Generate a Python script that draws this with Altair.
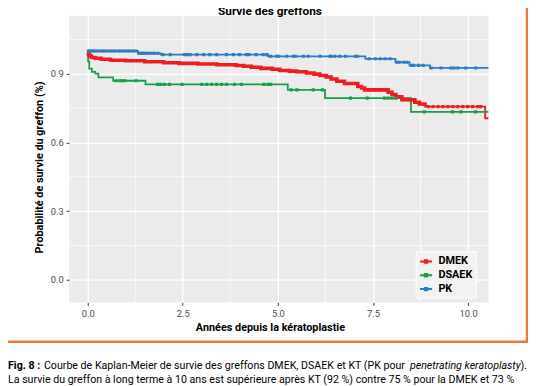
import altair as alt
import pandas as pd

# ---------------- data ----------------
GROUPS = ["DMEK", "DSAEK", "PK"]
COLORS = ["#EE1D23", "#1A9E46", "#2C7BC4"]

DMEK_T = [0, 0.02, 0.05, 0.1, 0.2, 0.35, 0.6, 1.0, 1.5, 2.0, 2.4, 2.9, 3.4, 3.9,
          4.1, 4.3, 4.55, 4.85, 5.05, 5.3, 5.5, 5.75, 5.95, 6.1, 6.27, 6.4, 6.55,
          6.75, 7.1, 7.2, 7.28, 7.9, 8.0, 8.1, 8.26, 8.6, 8.72, 8.87, 10.45, 10.54]
DMEK_S = [0.995, 0.985, 0.978, 0.972, 0.968, 0.964, 0.960, 0.957, 0.953, 0.949,
          0.946, 0.943, 0.940, 0.937, 0.933, 0.929, 0.924, 0.920, 0.915, 0.912,
          0.909, 0.904, 0.899, 0.893, 0.886, 0.878, 0.868, 0.858, 0.845, 0.838,
          0.830, 0.820, 0.810, 0.800, 0.787, 0.776, 0.768, 0.757, 0.706, 0.706]

DSAEK_T = [0, 0.01, 0.04, 0.11, 0.2, 0.28, 0.67, 1.52, 5.26, 6.24, 8.5, 10.54]
DSAEK_S = [1.0, 0.955, 0.923, 0.909, 0.901, 0.885, 0.870, 0.854, 0.830, 0.794,
           0.734, 0.734]

PK_T = [0, 1.32, 1.92, 4.74, 7.3, 8.09, 8.46, 9.0, 10.54]
PK_S = [1.0, 0.990, 0.984, 0.977, 0.966, 0.951, 0.937, 0.926, 0.926]

DMEK_CENS = [7.4, 7.55, 7.7, 8.32, 8.42, 8.52, 8.95, 9.08, 9.21, 9.34, 9.47,
             9.6, 9.73, 9.86, 9.99, 10.12, 10.25, 10.33]
DSAEK_CENS = [0.75, 0.85, 0.91, 0.98, 1.27, 1.84, 1.92, 2.02, 2.15, 2.48, 3.0,
              3.13, 3.26, 3.39, 3.52, 3.65, 3.86, 4.04, 4.63, 4.74, 4.81, 5.35,
              5.5, 5.93, 6.17, 6.91, 7.35, 7.8, 7.9, 8.0, 8.1, 8.85, 9.59, 9.81,
              10.2]
PK_CENS = [0.02, 0.05, 0.1, 0.15, 0.2, 0.27, 0.33, 0.4, 0.45, 0.52, 0.6, 0.66,
           0.72, 0.8, 0.86, 0.93, 1.0, 1.06, 1.12, 1.2, 1.26, 1.35, 1.4, 1.45,
           1.5, 1.56, 1.62, 1.7, 1.76, 1.85, 1.98, 2.17, 2.54, 2.61, 2.69, 2.87,
           3.05, 3.21, 3.39, 3.65, 3.83, 3.99, 4.17, 4.24, 4.43, 4.61, 4.71,
           4.81, 4.97, 5.02, 5.23, 5.41, 5.46, 5.67, 5.8, 6.11, 6.37, 6.39, 6.5,
           6.63, 6.78, 7.04, 7.09, 7.4, 7.56, 7.69, 7.82, 7.95, 8.13, 8.2, 8.31,
           8.39, 8.51, 8.57, 8.7, 8.82, 9.03, 9.29, 9.55, 9.63, 9.73, 9.94, 10.2]

X_TICKS = [0, 2.5, 5, 7.5, 10]
Y_TICKS = [0, 0.3, 0.6, 0.9]
X_MINOR = [1.25, 3.75, 6.25, 8.75]
Y_MINOR = [0.15, 0.45, 0.75, 1.05]
X_DOMAIN = [-0.49, 10.54]
Y_DOMAIN = [-0.099, 1.154]

TITLE = "Survie des greffons"
X_TITLE = "Années depuis la kératoplastie"
Y_TITLE = "Probabilité de survie du greffon (%)"
CAP_BOLD = "Fig. 8 :"
CAP_1A = "Courbe de Kaplan-Meier de survie des greffons DMEK, DSAEK et KT (PK pour"
CAP_1B = "penetrating keratoplasty"
CAP_1C = ")."
CAP_2 = ("La survie du greffon à long terme à 10 ans est supérieure après KT "
         "(92 %) contre 75 % pour la DMEK et 73 %")

# ---------------- tables ----------------
curves_src = {"DMEK": (DMEK_T, DMEK_S), "DSAEK": (DSAEK_T, DSAEK_S), "PK": (PK_T, PK_S)}
cens_src = {"DMEK": DMEK_CENS, "DSAEK": DSAEK_CENS, "PK": PK_CENS}

rows = []
for g, (ts, ss) in curves_src.items():
    for t, s in zip(ts, ss):
        rows.append({"g": g, "t": t, "s": s})
curves = pd.DataFrame(rows)


def surv_at(ts, ss, t):
    val = ss[0]
    for ti, si in zip(ts, ss):
        if ti <= t:
            val = si
    return val


crows = []
for g, times in cens_src.items():
    ts, ss = curves_src[g]
    for t in times:
        crows.append({"g": g, "t": t, "s": surv_at(ts, ss, t)})
cens = pd.DataFrame(crows)

minor_x = pd.DataFrame({"t": X_MINOR})
minor_y = pd.DataFrame({"s": Y_MINOR})
dummy = pd.DataFrame({"k": [0]})

FONT = "Roboto"
W, H = 426, 291
CAP_FS = 10.8

xs = alt.Scale(domain=X_DOMAIN, nice=False, zero=False)
ys = alt.Scale(domain=Y_DOMAIN, nice=False, zero=False)
X = alt.X("t:Q", scale=xs, axis=alt.Axis(
    values=X_TICKS, format=".1f", title=X_TITLE,
    titleX=204, titleY=26, titleAlign="center", titleBaseline="middle"))
Y = alt.Y("s:Q", scale=ys, axis=alt.Axis(
    values=Y_TICKS, format=".1f", title=Y_TITLE,
    titleX=-30, titleY=153.5, titleAngle=270, titleAlign="center",
    titleBaseline="middle"))
color_scale = alt.Scale(domain=GROUPS, range=COLORS)

legend = alt.Legend(
    title=None, orient="none", legendX=352, legendY=239,
    fillColor="#F2F2F2", strokeColor="white", padding=3,
    labelFont=FONT, labelFontSize=11, labelFontWeight="bold", labelColor="black",
    symbolType="M-1,0H1M-0.2,-0.2H0.2V0.2H-0.2Z", symbolSize=150,
    symbolStrokeWidth=2, rowPadding=1, labelOffset=5)

grid_x = alt.Chart(minor_x).mark_rule(color="white", strokeWidth=0.7).encode(x=X)
grid_y = alt.Chart(minor_y).mark_rule(color="white", strokeWidth=0.7).encode(y=Y)

lines = alt.Chart(curves).mark_line(interpolate="step-after", strokeWidth=1.8, clip=True).encode(
    x=X, y=Y, color=alt.Color("g:N", scale=color_scale, legend=legend), detail="g:N")

red_thick = alt.Chart(curves).transform_filter(
    "datum.g == 'DMEK' && datum.t <= 8.9"
).mark_line(interpolate="step-after", strokeWidth=3.6, clip=True, color=COLORS[0]).encode(x=X, y=Y)

marks = alt.Chart(cens).mark_square(size=10, filled=True, opacity=1, clip=True).encode(
    x=X, y=Y, color=alt.Color("g:N", scale=color_scale, legend=None))

ORANGE = "#EC7A3C"
border_r = alt.Chart(dummy).mark_rule(color=ORANGE, strokeWidth=2.5).encode(
    x=alt.value(465), y=alt.value(-20), y2=alt.value(332))
border_b = alt.Chart(dummy).mark_rule(color=ORANGE, strokeWidth=2.5).encode(
    x=alt.value(-80), x2=alt.value(466), y=alt.value(331))

title = alt.Chart(dummy).mark_text(
    text=TITLE, font=FONT, fontSize=12, fontWeight="bold", color="black",
    align="center", baseline="alphabetic").encode(x=alt.value(204), y=alt.value(-1))

cap_b = alt.Chart(dummy).mark_text(
    text=CAP_BOLD, font=FONT, fontSize=CAP_FS, fontWeight="bold", color="black",
    align="left", baseline="alphabetic").encode(x=alt.value(-62), y=alt.value(359))
cap_a = alt.Chart(dummy).mark_text(
    text=CAP_1A, font=FONT, fontSize=CAP_FS, color="black",
    align="left", baseline="alphabetic").encode(x=alt.value(-25.5), y=alt.value(359))
cap_i = alt.Chart(dummy).mark_text(
    text=CAP_1B, font=FONT, fontSize=CAP_FS, fontStyle="italic", color="black",
    align="right", baseline="alphabetic").encode(x=alt.value(458.5), y=alt.value(359))
cap_c = alt.Chart(dummy).mark_text(
    text=CAP_1C, font=FONT, fontSize=CAP_FS, color="black",
    align="right", baseline="alphabetic").encode(x=alt.value(465), y=alt.value(359))
cap_2 = alt.Chart(dummy).mark_text(
    text=CAP_2, font=FONT, fontSize=CAP_FS, color="black",
    align="left", baseline="alphabetic").encode(x=alt.value(-62), y=alt.value(373))

chart = alt.layer(
    grid_x, grid_y, lines, red_thick, marks,
    border_r, border_b, title, cap_b, cap_a, cap_i, cap_c, cap_2
).properties(
    width=W, height=H,
    padding={"left": 62, "top": 5, "right": 40, "bottom": 82},
    autosize=alt.AutoSizeParams(type="none"),
).configure_view(
    fill="#EBEBEB", stroke=None
).configure_axis(
    domain=False, tickColor="#333333", tickSize=3, tickWidth=1,
    labelColor="#4D4D4D", labelFont=FONT, labelFontSize=9.5, labelPadding=3,
    titleFont=FONT, titleFontSize=11, titleFontWeight="bold", titleColor="black",
    gridColor="white", gridWidth=1.3
)

chart.save("out.html", embed_options={"renderer": "svg", "actions": False})
